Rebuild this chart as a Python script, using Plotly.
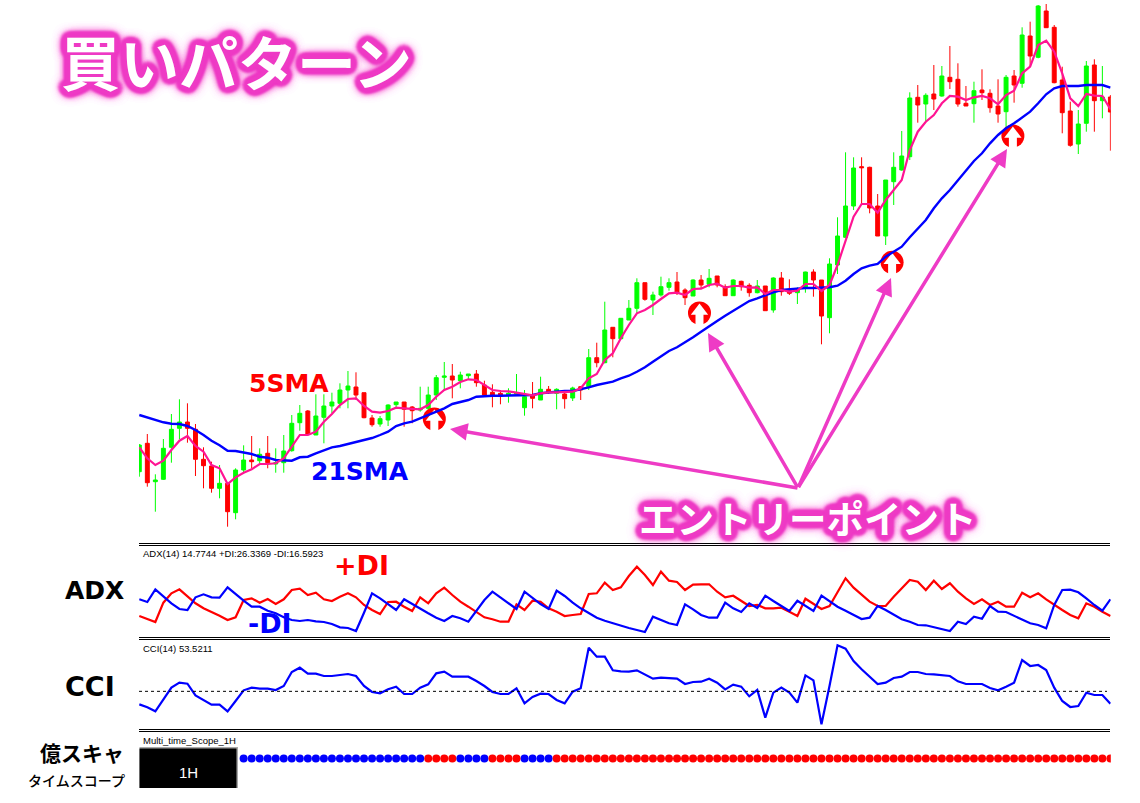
import plotly.graph_objects as go

W, H = 1140, 803

# ---- main candlesticks (chart price units) ----
opens = [70.3,98.7,60.3,62.7,94.7,113.7,120,112.7,82.7,76,53.7,58.7,29.3,72,82,81.3,88.7,78,79.3,91.3,
119.3,131,107,124.7,136,138.7,152,155,149.3,124,118,122,137.3,140,135,132,133.7,147,164.7,166,
161.3,166.3,168,157,149.7,148.7,146.7,148,134.3,146.3,142,152.7,148.7,148,144,155.3,155.3,184.3,179.3,214.7,
203.3,222,233.7,259.3,242,247,254.7,260,252,246,262,257.7,266,255.3,246.3,260.7,256.7,249.3,256,232,
264,252.7,249.3,253.7,270,262,224.3,277,304.7,336,375.3,374.7,336,306,360.3,372,385.3,444.7,438,448,
446,464.7,462.7,438.7,438.3,452,448.7,436,430.3,466,458.7,506,484.7,531,514.7,462,431,398,418.7,477,
441.3,445]
highs = [98,108,67.7,103,128,142.7,138.7,118,94.7,80.3,77,58.7,73.7,96.7,106,93.7,106,93.7,107,127,
137,132,147.7,147.7,149.3,158.7,171,169.7,149.3,127,126,137.7,140,140,136,155.3,155.3,167,180,178,
170.3,168,172,161.3,157.7,152,153.7,168,152,160,165.3,156,153.7,151.3,155.3,156,193,199.3,240.3,214.7,
224,242,263.7,259.3,250.3,265.3,263.7,270,253.7,262.7,267,273,266,257.7,262.7,261.3,258.7,262,256,264.7,
270,262.7,254.7,270.3,272.7,262,283.7,324.7,389.7,384.7,384.7,375.3,348,362,389.7,411,449.7,457,448.7,477,
476,496,478.7,456,460.3,472.7,452.7,462.7,467,472,514.7,520.3,537,538,517,475.3,440.3,432,481,482.7,
476,447]
lows = [65.3,55.3,30.3,62,79.3,102.7,99.3,66,53.7,49.3,43.7,15.3,22.7,68.7,73.7,78.7,73.7,69.3,69.3,90.3,
111.3,107,107,98.7,128.7,133.7,133.7,142,123.7,115.3,115.3,116,133.7,115.3,118.7,130.3,124.3,142,152,143.7,
153.7,162.7,155.3,146.7,134.7,137.7,139.3,148,126.3,133.7,142,148,132.7,133.3,141,142,152,174.7,178.7,184.7,
202.7,222,228.7,241.3,227,245.3,251.3,247,237,246,253.7,254.7,254.7,246.3,246.3,251.3,245.3,248.7,231.3,229.3,
246.3,247,238,249.3,245.3,197.7,208.7,268,303.7,332,337,328.7,306,297,337,371.3,382,419.3,420,432,
445.3,453,435.3,436,419.3,442,429.3,419.3,413.7,439.3,454.3,475.3,483.7,514,458.7,408.7,395.3,388,410.3,410.3,
423.7,391.3]
closes = [97,59.3,62,93.7,112.7,120,113.7,82.7,76.3,53.7,58.7,30.3,72,82,80.3,87.7,79.3,79.3,91,118.7,
128.7,107.7,126,136,140,152,156,147,124.3,117.3,123.3,137,140,132.7,131.3,133.7,147,164.3,166,162,
167,168,159.3,147,146.3,146.3,148.7,149.3,145.3,143.7,152.7,149.7,152.7,143.3,154,152,184.3,179.3,212,203.3,
223.7,233.7,259.3,242.7,247,255.3,259.3,249.3,244.3,262,257,263.7,257,246.3,262,255.3,249.3,256,231.3,264,
250.3,248.7,252,270,262,226,278,306,336,374,374.3,334,306,362,374.7,386,444,437,446.7,443,
466,460.3,438,436,451.3,449.3,434.3,428,464.7,457,507,486,536,514.3,459.3,429.3,396.7,418,476,441.3,
445,430]

# ---- moving averages ----
sma5 = [94.7,83.7,77,81.3,92,101.3,106,96,90.3,77,73.7,58,64.7,69.3,72.7,78,78,78.7,83.7,95.3,
107,107,110.3,120.3,128,137,143,143.7,136,130.3,129.3,131,134.3,133.7,133,132.7,137,145.3,152,155.3,
160,162.7,162,157,152,151,150.7,149.3,147.7,146.7,148.7,149.7,149.7,149.7,150.3,153.7,163.7,168,182,188.7,
203.7,217,228.7,232,237,243,248.7,249.3,247,253,253.3,257,258.3,254.3,256,256,254.3,254.7,248,252,
252,250.3,251.3,258,258,251,257,277,300.3,325.3,338,338,329.3,342,352,362,392,410.3,420.3,427,
438.7,446,445.3,442,444.7,446,443.7,437.7,447,451.3,468.7,475.3,497,501.3,490.3,468.7,443.7,436,448,446.3,
446,432.7]
sma21 = [127,124.7,122,119.7,118.3,118,116,112,107,101.3,96.7,91.3,91,89.3,88,85.3,84.3,82,81.3,81.3,
84.7,85.3,88.7,92,94.7,96,98,100.3,102.7,104,107,110.3,116,118.7,120.3,123.7,127,130.3,133.7,138,
139.7,142,145.3,146,146.3,146.3,146.3,146.3,146.3,147,148.7,149.7,150.7,151,151,152.7,154.7,157,158.7,160.3,
163.7,166.3,170.3,174.7,180.3,186,191,194.7,199.3,204.7,210.3,215.3,221,226.3,231.3,236,241,243.7,247,249.7,
252,252.7,253.7,254,254,254,254.7,256.3,261.3,268,273.7,276.3,278,285.3,290.3,295.3,304.7,313,322,333.7,
343.7,352,362,372,381,388.7,398.7,407,413.7,418.7,424.7,430.3,438.7,447.7,453.7,456,456,456,457,457,
457,454.3]

# ---- entry signals ----
signal_bar = [36.76, 69.8, 93.8, 108.85]
signal_price = [123, 229, 279.7, 406]

# ---- ADX panel ----
plus_di = [22,18.7,16,35.3,44.7,48.7,41.3,34.7,29.7,26.3,22.3,18,20.7,38,39.7,35.3,39,34,38.7,48,
49.3,43,45.3,38.7,37,41.3,44.7,40.7,33,28,24,36,36.3,31.3,27,40.7,34.7,44.7,50.3,43,
36.3,31.3,26.3,20.7,18.7,16.3,16.3,33.7,28,37.3,36.3,29.7,26.3,22,23,24,44,44.7,55.3,48,
50.7,62,71.3,63,53,66.3,57.3,56,48,53.3,53.7,53.7,46.3,40.7,42.3,37.3,32,33,29.7,29.7,
30.3,26.3,22,39.3,34,29,32,46.3,59.7,50.3,43,36.3,32,32,41.3,49.7,58,56.3,48,57.3,
49,54.7,46.3,39.7,34,38.7,33,36.3,31.3,31.3,45.3,40.7,44.7,38.7,33,28,23,19.7,34.7,31.3,
26.3,22]
minus_di = [38.7,36,48.7,42,34.7,29,28,40.7,43.7,40.7,40.3,50.7,43.7,37.3,31.3,31.3,27.3,24.7,20.7,18,
17,18,16.7,16,14,10.7,10,7,25.3,44.7,39.7,34,28,38.7,34,28.7,24.7,20.3,17,22,
19.7,16.3,27,38,46.3,40.7,34.7,29,46.3,39.7,34,29,47.3,42,35.3,29.7,24.7,20.3,17.3,14.7,
12,10,8,6,21.3,18,14.7,13,33.7,28.7,23,20.3,20.3,35.3,29.7,26,34.7,30,42.3,37,
32,27,37.3,32.3,27,42.3,37,31.3,27.3,23,19,20.3,32,28,23,18.7,16.3,13,12.7,10.7,
9,7,16.3,14,21.3,19.3,32,26.3,26,22,18,14.7,13,9.7,33,48,48.3,45.7,39.7,33,
27.3,38.7]

# ---- CCI panel ----
cci = [-39,-48,-60,-24,11,26,23,-12,-26,-40,-40,-60,-29,3,11,8,8,4,16,58,
71,53,53,46,46,50,52,46,16,-2,-6,6,14,-8,-8,11,21,54,59,44,
44,44,31,16,-2,-8,-8,9,-36,-17,-7,-8,-26,-36,-1,9,131,104,104,63,
60,59,63,51,38,41,40,38,22,28,29,38,26,6,20,14,-15,4,-79,-4,
11,-4,-34,48,33,-99,16,138,128,91,66,44,22,26,40,44,58,58,52,51,
48,46,30,22,22,22,10,3,14,26,94,76,79,64,11,-29,-47,-44,-4,-11,
-11,-37]

# ---- Multi time scope dots (bar numbers) ----
scope_blue = [13,14,15,16,17,18,19,20,21,22,23,24,25,26,27,28,29,30,31,32,33,34,35,
40,41,42,43,48,49,50,51]
scope_red = [36,37,38,39,44,45,46,47] + list(range(52, 122))

bars = list(range(len(opens)))

# pixel helpers for layout (not data)
def px(x): return x / W
def py(y): return 1 - y / H

PINK = "#ee3bc5"
glow = ", ".join(
    [f"{dx}px {dy}px 3px {PINK}" for dx, dy in
     [(4,0),(-4,0),(0,4),(0,-4),(3,3),(-3,3),(3,-3),(-3,-3),(6,0),(-6,0),(0,6),(0,-6),(5,3),(-5,3),(5,-3),(-5,-3),(3,5),(-3,5),(3,-5),(-3,-5)]]
    + [f"0 0 10px {PINK}"] * 4 + [f"0 0 14px {PINK}"] * 3
)

fig = go.Figure()

fig.add_trace(go.Candlestick(
    x=bars, open=opens, high=highs, low=lows, close=closes, yaxis="y",
    increasing=dict(line=dict(color="#00ff00", width=1), fillcolor="#00ff00"),
    decreasing=dict(line=dict(color="#ff0000", width=1), fillcolor="#ff0000"),
))
fig.add_trace(go.Scatter(x=signal_bar, y=signal_price, mode="markers", yaxis="y",
    marker=dict(symbol="circle", size=23, color="#ff0000"), hoverinfo="skip"))
fig.add_trace(go.Scatter(x=signal_bar, y=[v + 2 for v in signal_price], mode="markers", yaxis="y",
    marker=dict(symbol="triangle-up", size=15, color="#ffffff"), hoverinfo="skip"))
fig.add_trace(go.Scatter(x=signal_bar, y=[v - 5.5 for v in signal_price], mode="markers", yaxis="y",
    marker=dict(symbol="line-ns-open", size=11, color="#ffffff", line=dict(color="#ffffff", width=8)), hoverinfo="skip"))
fig.add_trace(go.Scatter(x=bars, y=sma21, mode="lines", yaxis="y", line=dict(color="#0000ff", width=2.4)))
fig.add_trace(go.Scatter(x=bars, y=sma5, mode="lines", yaxis="y", line=dict(color="#ff1493", width=2.2)))

fig.add_trace(go.Scatter(x=bars, y=plus_di, mode="lines", yaxis="y2", line=dict(color="#ff0000", width=2.2)))
fig.add_trace(go.Scatter(x=bars, y=minus_di, mode="lines", yaxis="y2", line=dict(color="#0000ff", width=2.2)))

fig.add_trace(go.Scatter(x=bars, y=cci, mode="lines", yaxis="y3", line=dict(color="#0000ff", width=2.2)))

fig.add_trace(go.Scatter(x=scope_blue, y=[1] * len(scope_blue), mode="markers", yaxis="y4",
    marker=dict(color="#0000ff", size=8), hoverinfo="skip"))
fig.add_trace(go.Scatter(x=scope_red, y=[1] * len(scope_red), mode="markers", yaxis="y4",
    marker=dict(color="#ff0000", size=8), hoverinfo="skip"))

shapes = []
for yy in [543.5, 545.5, 637.5, 639.5, 729.5, 731.5]:
    shapes.append(dict(type="line", xref="paper", yref="paper", x0=px(139), x1=px(1110),
                       y0=py(yy), y1=py(yy), line=dict(color="#000000", width=1)))
shapes.append(dict(type="line", xref="paper", yref="y3", x0=px(139), x1=px(1107), y0=0, y1=0,
                   line=dict(color="#000000", width=1, dash="3px,3px")))
shapes.append(dict(type="rect", xref="paper", yref="paper", x0=px(139.5), x1=px(238), y0=py(788), y1=py(747),
                   fillcolor="#a8a8a8", line=dict(width=0), layer="below"))
shapes.append(dict(type="rect", xref="paper", yref="paper", x0=px(139.5), x1=px(236.5), y0=py(788), y1=py(748.5),
                   fillcolor="#000000", line=dict(width=0), layer="below"))

def label(text, x, y, size, color="#000000", family="DejaVu Sans", weight=700, anchor="center", shadow=None):
    f = dict(size=size, color=color, family=family, weight=weight)
    if shadow:
        f["shadow"] = shadow
    return dict(text=text, xref="paper", yref="paper", x=px(x), y=py(y), xanchor=anchor, yanchor="middle",
                showarrow=False, font=f)

CJK = "Noto Sans CJK JP"
annotations = [
    label("買いパターン", 236, 61, 59, "#ffffff", CJK, 700, shadow=glow),
    label("エントリーポイント", 808, 516, 37.5, "#ffffff", CJK, 700, shadow=glow),
    label("5SMA", 289, 383, 25, "#ff0000"),
    label("21SMA", 360, 471, 25, "#0000ff"),
    label("+DI", 361, 565, 27, "#ff0000"),
    label("-DI", 270, 623, 27, "#0000ff"),
    label("ADX", 94, 590, 25),
    label("CCI", 90, 686, 27),
    label("億スキャ", 82, 752, 21, "#000000", CJK, 700),
    label("タイムスコープ", 76, 780, 14, "#000000", CJK, 500),
    label("ADX(14) 14.7744 +DI:26.3369 -DI:16.5923", 141, 553, 9.5, "#000000", "Liberation Sans", 400, "left"),
    label("CCI(14) 53.5211", 141, 648, 9.5, "#000000", "Liberation Sans", 400, "left"),
    label("Multi_time_Scope_1H", 140.5, 740, 9.5, "#000000", "Liberation Sans", 400, "left"),
    label("1H", 188, 772, 15, "#ffffff", "Liberation Sans", 400),
]
for tx, ty in [(450, 429), (708, 333), (891, 278), (1007, 149)]:
    annotations.append(dict(text=" ", xref="paper", yref="paper", x=px(tx), y=py(ty),
                            ax=798 - tx, ay=488 - ty, axref="pixel", ayref="pixel", font=dict(size=1),
                            borderpad=0, showarrow=True, arrowhead=2, arrowsize=1.0, arrowwidth=3.5,
                            arrowcolor=PINK, standoff=0, startstandoff=0))

hidden = dict(visible=False, fixedrange=True)
fig.update_layout(
    width=W, height=H, autosize=False, showlegend=False, margin=dict(l=0, r=0, t=0, b=0),
    paper_bgcolor="#ffffff", plot_bgcolor="#ffffff", boxgap=0.3,
    xaxis=dict(domain=[px(139), px(1110.8)], range=[-0.037, 121.05], rangeslider=dict(visible=False),
               anchor="y4", **hidden),
    yaxis=dict(domain=[py(542), 1], range=[0, 542], **hidden),
    yaxis2=dict(domain=[py(637), py(546)], range=[1, 92], **hidden),
    yaxis3=dict(domain=[py(729), py(640)], range=[-113, 154], **hidden),
    yaxis4=dict(domain=[py(770), py(747)], range=[0, 2], **hidden),
    shapes=shapes, annotations=annotations,
)

fig.write_html("out.html", config=dict(displayModeBar=False),
               post_script="document.body.style.margin='0';document.body.style.overflow='hidden';")
